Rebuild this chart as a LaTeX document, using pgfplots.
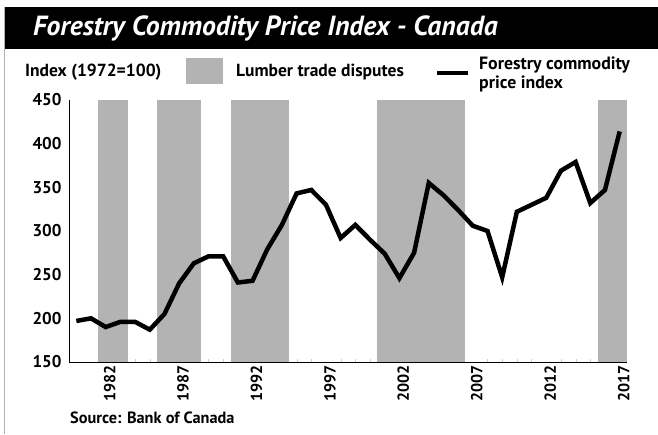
\documentclass[border=0pt]{standalone}
\usepackage{pgfplots}
\pgfplotsset{compat=1.18}
\usepackage{fontspec}
\setmainfont{PT Sans}
\definecolor{bandgray}{RGB}{179,179,179}
\begin{document}
\begin{tikzpicture}[x=1pt,y=1pt]
\useasboundingbox (0,0) rectangle (658,434);
\fill[white] (0,0) rectangle (658,434);
\fill[black] (4,385) rectangle (658,427);
\draw[gray!60, line width=0.8pt] (4,427) -- (4,0);
\node[anchor=west, text=white, inner sep=0pt, font=\fontsize{27.7}{30}\selectfont\bfseries\itshape] at (33,406) {Forestry Commodity Price Index - Canada};
\node[anchor=west, inner sep=0pt, font=\fontsize{17.5}{20}\selectfont\bfseries] at (25,362) {Index (1972=100)};
\fill[bandgray] (186,350) rectangle (223,376);
\node[anchor=west, inner sep=0pt, font=\fontsize{17.5}{20}\selectfont\bfseries] at (236,362) {Lumber trade disputes};
\draw[line width=3.5pt] (437,361) -- (468,361);
\node[anchor=west, align=left, inner sep=0pt, font=\fontsize{17.8}{19}\selectfont\bfseries] at (479,360) {Forestry commodity\\price index};
\node[anchor=west, inner sep=0pt, font=\fontsize{16.3}{18}\selectfont\bfseries] at (70,16) {Source: Bank of Canada};
\begin{axis}[
  at={(69pt,72pt)}, anchor=south west,
  scale only axis, width=558pt, height=262pt,
  xmin=1979.5, xmax=2017.5, ymin=150, ymax=450,
  axis x line*=bottom, axis y line*=left,
  axis line style={-},
  x axis line style={line width=1pt},
  y axis line style={line width=0.8pt},
  ytick={150,200,...,450},
  xtick={1982,1987,...,2017},
  minor x tick num=4,
  major tick length=0pt,
  minor tick length=3pt,
  minor tick style={gray!40},
  /pgf/number format/assume math mode=true,
  /pgf/number format/set thousands separator={},
  xticklabel style={font=\fontsize{16}{18}\selectfont\bfseries, rotate=90, anchor=east, yshift=-4pt},
  yticklabel style={font=\fontsize{17}{19}\selectfont\bfseries, xshift=-4pt},
]
\addplot[fill=bandgray, draw=none] coordinates {(1981.5,150) (1981.5,450) (1983.5,450) (1983.5,150)} -- cycle;
\addplot[fill=bandgray, draw=none] coordinates {(1985.5,150) (1985.5,450) (1988.5,450) (1988.5,150)} -- cycle;
\addplot[fill=bandgray, draw=none] coordinates {(1990.5,150) (1990.5,450) (1994.5,450) (1994.5,150)} -- cycle;
\addplot[fill=bandgray, draw=none] coordinates {(2000.5,150) (2000.5,450) (2006.5,450) (2006.5,150)} -- cycle;
\addplot[fill=bandgray, draw=none] coordinates {(2015.5,150) (2015.5,450) (2017.5,450) (2017.5,150)} -- cycle;
\addplot[black, line width=4.5pt, line join=miter, mark=none] coordinates {
(1980,197) (1981,200) (1982,190) (1983,196) (1984,196) (1985,187) (1986,205)
(1987,240) (1988,263) (1989,271) (1990,271) (1991,241) (1992,243) (1993,279)
(1994,307) (1995,343) (1996,347) (1997,330) (1998,292) (1999,307) (2000,290)
(2001,274) (2002,246) (2003,275) (2004,355) (2005,341) (2006,324) (2007,306)
(2008,300) (2009,247) (2010,322) (2011,330) (2012,338) (2013,369) (2014,379)
(2015,332) (2016,347) (2017,414)};
\end{axis}
\end{tikzpicture}
\end{document}
